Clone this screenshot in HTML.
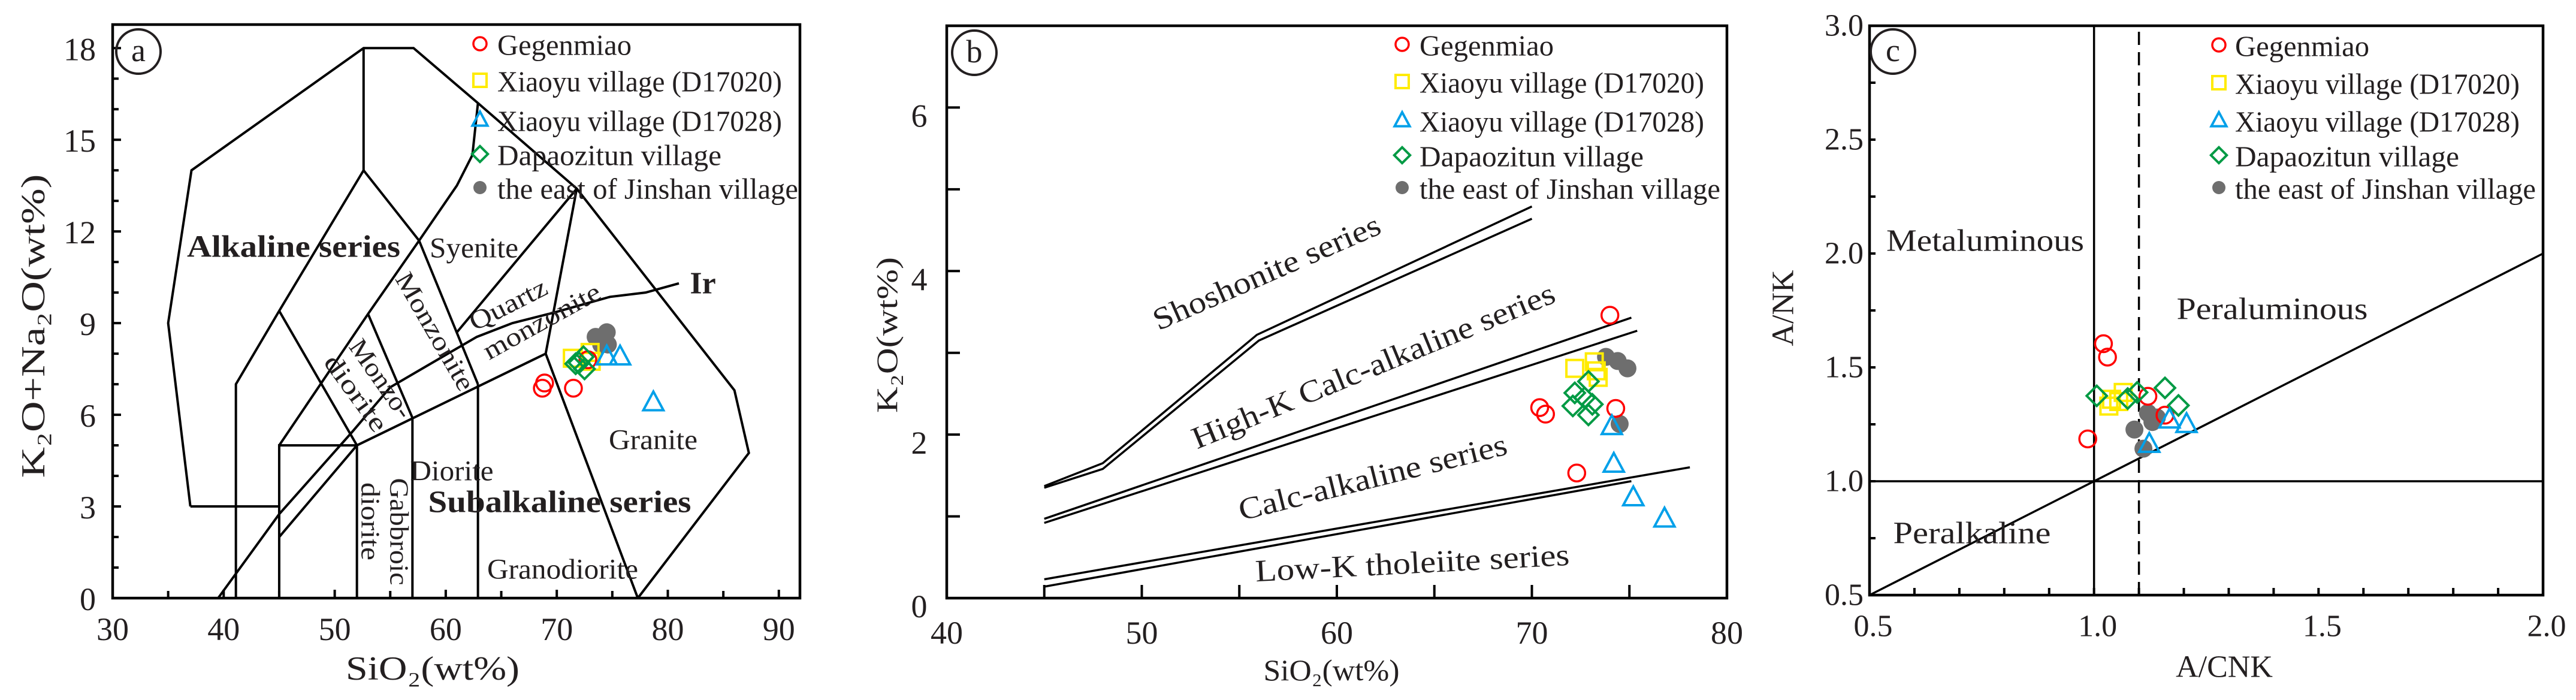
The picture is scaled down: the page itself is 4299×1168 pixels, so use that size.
<!DOCTYPE html>
<html><head><meta charset="utf-8">
<style>
html,body{margin:0;padding:0;background:#fff;}
svg{display:block;}
text{font-family:"Liberation Serif",serif;fill:#231f20;}
</style></head>
<body>
<svg id="fig" width="4299" height="1168" viewBox="0 0 4299 1168" xmlns="http://www.w3.org/2000/svg">
<rect width="4299" height="1168" fill="#fff"/>
</svg>
<script>
// ---------- Data: panel a (TAS) ----------
const aGegX=[68.7,68.9,71.5,72.8];
const aGegY=[6.87,7.04,6.87,7.8];
const aD20X=[71.4,73.0,73.1];
const aD20Y=[7.85,8.04,7.75];
const aD28X=[74.5,75.7,78.7];
const aD28Y=[7.9,7.9,6.4];
const aDapX=[71.7,72.4,72.5,72.0];
const aDapY=[7.67,7.9,7.5,7.7];
const aJinX=[73.5,74.5,74.0,74.6];
const aJinY=[8.55,8.7,8.3,8.3];
// ---------- Data: panel b (SiO2-K2O) ----------
const bGegX=[74.0,70.4,70.7,74.3,72.3];
const bGegY=[3.46,2.33,2.25,2.32,1.53];
const bD20X=[72.2,73.2,73.4,73.3];
const bD20Y=[2.81,2.89,2.7,2.78];
const bD28X=[74.1,74.2,75.2,76.8];
const bD28Y=[2.1,1.64,1.23,0.97];
const bDapX=[72.2,72.9,72.1,72.9,73.1,72.7];
const bDapY=[2.51,2.65,2.35,2.24,2.37,2.45];
const bJinX=[73.8,74.4,74.9,74.5];
const bJinY=[2.95,2.9,2.81,2.13];
// ---------- Data: panel c (A/CNK-A/NK) ----------
const cGegX=[1.021,1.03,0.986,1.12,1.158];
const cGegY=[1.604,1.545,1.186,1.373,1.29];
const cD20X=[1.039,1.065,1.033,1.055];
const cD20Y=[1.36,1.39,1.33,1.35];
const cD28X=[1.168,1.206,1.123];
const cD28Y=[1.27,1.25,1.163];
const cDapX=[1.006,1.075,1.096,1.158,1.188];
const cDapY=[1.375,1.363,1.39,1.41,1.333];
const cJinX=[1.09,1.11,1.12,1.14,1.13];
const cJinY=[1.227,1.143,1.3,1.28,1.26];
// ticks
const aXTicks=[30,40,50,60,70,80,90];
const aYTicks=[0,3,6,9,12,15,18];
const bXTicks=[40,50,60,70,80];
const bYTicks=[0,2,4,6];
const cXTicks=[0.5,1.0,1.5,2.0];
const cYTicks=[0.5,1.0,1.5,2.0,2.5,3.0];
// panel a TAS field boundaries (data coords)
const aFields=[
 [[37,3],[45,3]],
 [[37,3],[35,9],[37.1,14],[52.6,18],[57.1,18],[62.9,16.2],[71.8,13.4],[86,6.8],[87.3,4.75],[77.3,0]],
 [[52.6,18],[52.6,14]],
 [[41.1,0],[41.1,7],[45,9.4],[52.6,14],[57.6,11.7],[62.9,7]],
 [[62.9,16.2],[62.4,14.5],[61,13.5],[57.6,11.7],[53,9.3],[45,5]],
 [[45,9.4],[52,5]],
 [[53,9.3],[57,5.9]],
 [[71.8,13.4],[61,8.7]],
 [[71.8,13.4],[69,8],[77.3,0]],
 [[45,0],[45,5],[52,5],[69,8]],
 [[45,2],[52,5]],
 [[52,0],[52,5]],
 [[57,0],[57,5.9]],
 [[62.9,0],[62.9,7]]
];
const aIr=[[39.5,0],[45,2.75],[51.6,5.45],[55,6.9],[58.3,7.6],[62.8,8.55],[66,9.0],[69.8,9.35],[74.8,9.86],[78,10.0],[81,10.3]];
const bLines=[
 [[45,1.37],[48,1.65],[55.9,3.22],[70,4.79]],
 [[45,1.35],[48,1.58],[56,3.15],[70,4.64]],
 [[45,0.97],[75.1,3.43]],
 [[45,0.92],[75.4,3.27]],
 [[45,0.23],[78.1,1.6]],
 [[45,0.14],[75.1,1.43]]
];

const NS="http://www.w3.org/2000/svg";
const svg=document.getElementById('fig');
function mk(tag,attrs,parent){const e=document.createElementNS(NS,tag);for(const k in attrs)e.setAttribute(k,attrs[k]);(parent||svg).appendChild(e);return e;}

const panels={
 a:{L:188,R:1335,T:41,B:998,x0:30,x1:91.9,y0:0,y1:18.77},
 b:{L:1580,R:2882,T:43,B:998,x0:40,x1:80,y0:0,y1:7.0},
 c:{L:3120,R:4244,T:43,B:993,x0:0.5,x1:2.0,y0:0.5,y1:3.0}
};
function sx(p,v){return p.L+(v-p.x0)/(p.x1-p.x0)*(p.R-p.L);}
function sy(p,v){return p.B-(v-p.y0)/(p.y1-p.y0)*(p.B-p.T);}

function polyline(p,pts,name,extra){
 const e=mk('polyline',Object.assign({points:pts.map(q=>sx(p,q[0])+','+sy(p,q[1])).join(' '),fill:'none',stroke:'#000','stroke-width':4,'stroke-linejoin':'miter'},extra||{}));
 
 
 return e;
}
// label centred at (x,y)
function label(x,y,str,size,name,opts){
 opts=opts||{};
 const t=mk('text',{x:x,y:y,'font-size':size,'text-anchor':opts.anchor||'middle','dominant-baseline':'central'});
 if(opts.bold)t.setAttribute('font-weight','bold');
 if(opts.len){t.setAttribute('textLength',opts.len);t.setAttribute('lengthAdjust','spacingAndGlyphs');}
 if(opts.rot)t.setAttribute('transform','rotate('+opts.rot+' '+x+' '+y+')');
 
 
 t.textContent=str;
 return t;
}
function marker(kind,cx,cy,s,name){
 let e;
 if(kind==='circle'){e=mk('circle',{cx:cx,cy:cy,r:s,fill:'none',stroke:'#ff0000','stroke-width':3.5});}
 else if(kind==='square'){e=mk('rect',{x:cx-s,y:cy-s,width:2*s,height:2*s,fill:'none',stroke:'#ffeb00','stroke-width':4});}
 else if(kind==='tri'){e=mk('polygon',{points:cx+','+(cy-s*1.15)+' '+(cx-s*1.05)+','+(cy+s*0.8)+' '+(cx+s*1.05)+','+(cy+s*0.8),fill:'none',stroke:'#00a0e9','stroke-width':4});}
 else if(kind==='dia'){e=mk('polygon',{points:cx+','+(cy-s*1.2)+' '+(cx+s*1.2)+','+cy+' '+cx+','+(cy+s*1.2)+' '+(cx-s*1.2)+','+cy,fill:'none',stroke:'#009a44','stroke-width':4});}
 else {e=mk('circle',{cx:cx,cy:cy,r:s,fill:'#6e6e6e',stroke:'none'});}
 
 
 return e;
}
const seriesDefs=[
 {kind:'circle',label:'Gegenmiao',key:'Geg',size:14,len:224},
 {kind:'square',label:'Xiaoyu village (D17020)',key:'D20',size:14,len:475},
 {kind:'tri',label:'Xiaoyu village (D17028)',key:'D28',size:16,len:475},
 {kind:'dia',label:'Dapaozitun village',key:'Dap',size:14,len:374},
 {kind:'gray',label:'the east of Jinshan village',key:'Jin',size:15,len:502}
];
const dataSets={
 a:{Geg:[aGegX,aGegY],D20:[aD20X,aD20Y],D28:[aD28X,aD28Y],Dap:[aDapX,aDapY],Jin:[aJinX,aJinY]},
 b:{Geg:[bGegX,bGegY],D20:[bD20X,bD20Y],D28:[bD28X,bD28Y],Dap:[bDapX,bDapY],Jin:[bJinX,bJinY]},
 c:{Geg:[cGegX,cGegY],D20:[cD20X,cD20Y],D28:[cD28X,cD28Y],Dap:[cDapX,cDapY],Jin:[cJinX,cJinY]}
};
function drawPoints(id){
 const p=panels[id];
 const order=['Jin','D20','Geg','Dap','D28'];
 order.forEach(k=>{
  const d=seriesDefs.find(s=>s.key===k);
  const xs=dataSets[id][k][0], ys=dataSets[id][k][1];
  xs.forEach((v,i)=>marker(d.kind,sx(p,v),sy(p,ys[i]),d.size,'point-'+id+'-'+k.toLowerCase()));
 });
}
function drawLegend(id,mx,tx,rows){
 const g=mk('g',{});
 
 
 seriesDefs.forEach((d,i)=>{
  const m=marker(d.kind,mx,rows[i],d.kind==='tri'?12:11,'legend-marker');
  g.appendChild(m);
  const t=label(tx,rows[i]+2,d.label,49,'legend-entry',{anchor:'start',len:d.len});
  g.appendChild(t);
 });
}
function frame(id){
 const p=panels[id];
 const r=mk('rect',{x:p.L,y:p.T,width:p.R-p.L,height:p.B-p.T,fill:'none',stroke:'#000','stroke-width':4.5});
 
 
}
function tickX(p,v,len){mk('line',{x1:sx(p,v),x2:sx(p,v),y1:p.B,y2:p.B-len,stroke:'#000','stroke-width':4});}
function tickY(p,v,len){mk('line',{x1:p.L,x2:p.L+len,y1:sy(p,v),y2:sy(p,v),stroke:'#000','stroke-width':4});}
function panelLetter(cx,cy,ch,name){
 const c=mk('circle',{cx:cx,cy:cy,r:37,fill:'none',stroke:'#231f20','stroke-width':4});
 
 
 label(cx,cy-2,ch,54,name);
}

// ===== Panel a =====
(function(){
 const p=panels.a;
 aFields.forEach(f=>polyline(p,f,'tas-boundary'));
 polyline(p,aIr,'irvine-line');
 for(let v=30;v<=90;v+=5)tickX(p,v,v%10===0?14:12);
 for(let v=1;v<=18;v++)tickY(p,v,v%3===0?14:10);
 frame('a');
 aXTicks.forEach(v=>label(sx(p,v),1050,String(v),54,'x-tick-label'));
 aYTicks.forEach(v=>label(160,sy(p,v)+2,String(v),54,'y-tick-label',{anchor:'end'}));
 label(722,1116,'SiO\u2082(wt%)',56,'x-axis-title',{len:290});
 label(56,544,'K\u2082O+Na\u2082O(wt%)',56,'y-axis-title',{rot:-90,len:507});
 label(490,412,'Alkaline series',52,'label-alkaline-series',{bold:true,len:356});
 label(791,414,'Syenite',48,'label-syenite',{len:148});
 label(848,508,'Quartz',44,'label-quartz',{rot:-27,len:140});
 label(904,536,'monzonite',44,'label-quartz-monzonite',{rot:-29,len:217});
 label(726,553,'Monzonite',44,'label-monzonite',{rot:60,len:220});
 label(636,632,'Monzo-',44,'label-monzo',{rot:55,len:151});
 label(594,656,'diorite',44,'label-monzodiorite',{rot:54,len:148});
 label(754,786,'Diorite',48,'label-diorite',{len:139});
 label(666,887,'Gabbroic',44,'label-gabbroic',{rot:90,len:179});
 label(618,870,'diorite',44,'label-gabbroic-diorite',{rot:90,len:130});
 label(934,838,'Subalkaline series',52,'label-subalkaline-series',{bold:true,len:439});
 label(939,950,'Granodiorite',48,'label-granodiorite',{len:252});
 label(1090,734,'Granite',48,'label-granite',{len:148});
 label(1173,473,'Ir',52,'label-ir',{bold:true});
 drawPoints('a');
 drawLegend('a',801,830,[73,134,200,257,313]);
 panelLetter(231,86,'a','panel-label-a');
})();

// ===== Panel b =====
(function(){
 const p=panels.b;
 bLines.forEach(l=>polyline(p,l,'series-boundary',{'stroke-width':3.5}));
 for(let v=45;v<=75;v+=5)tickX(p,v,22);
 for(let v=1;v<=6;v++)tickY(p,v,22);
 frame('b');
 bXTicks.forEach(v=>label(sx(p,v),1056,String(v),54,'x-tick-label'));
 bYTicks.forEach(v=>label(1534,sy(p,v)+14,String(v),54,'y-tick-label'));
 label(2222,1118,'SiO\u2082(wt%)',50,'x-axis-title',{len:227});
 label(1480,559,'K\u2082O(wt%)',50,'y-axis-title',{rot:-90,len:260});
 label(2114,455,'Shoshonite series',52,'label-shoshonite',{rot:-23.6,len:409});
 label(2292,611,'High-K Calc-alkaline series',52,'label-high-k',{rot:-22.3,len:650});
 label(2291,797,'Calc-alkaline series',52,'label-calc-alkaline',{rot:-14,len:460});
 label(2357,940,'Low-K  tholeiite series',52,'label-low-k',{rot:-3,len:525});
 drawPoints('b');
 drawLegend('b',2340,2369,[74,136,201,259,313]);
 panelLetter(1626,88,'b','panel-label-b');
})();

// ===== Panel c =====
(function(){
 const p=panels.c;
 polyline(p,[[1,0.5],[1,3]],'line-acnk-1',{'stroke-width':3.5});
 polyline(p,[[1.1,0.5],[1.1,3]],'line-acnk-1-1',{'stroke-width':3.5,'stroke-dasharray':'22,12'});
 polyline(p,[[0.5,1],[2,1]],'line-ank-1',{'stroke-width':3.5});
 polyline(p,[[0.5,0.5],[2,2]],'line-diagonal',{'stroke-width':3.5});
 for(let i=1;i<15;i++)tickX(p,0.5+i*0.1,12);
 for(let i=1;i<10;i++)tickY(p,0.5+i*0.25,10);
 frame('c');
 cXTicks.forEach(v=>label(sx(p,v)+6,1045,v.toFixed(1),52,'x-tick-label'));
 cYTicks.forEach(v=>label(3110,sy(p,v),v.toFixed(1),52,'y-tick-label',{anchor:'end'}));
 label(3712,1113,'A/CNK',52,'x-axis-title');
 label(2976,514,'A/NK',52,'y-axis-title',{rot:-90});
 label(3313,402,'Metaluminous',52,'label-metaluminous',{len:330});
 label(3792,516,'Peraluminous',52,'label-peraluminous',{len:319});
 label(3291,890,'Peralkaline',52,'label-peralkaline',{len:263});
 drawPoints('c');
 drawLegend('c',3703,3730,[75,138,201,259,313]);
 panelLetter(3159,86,'c','panel-label-c');
})();
</script>
</body></html>
